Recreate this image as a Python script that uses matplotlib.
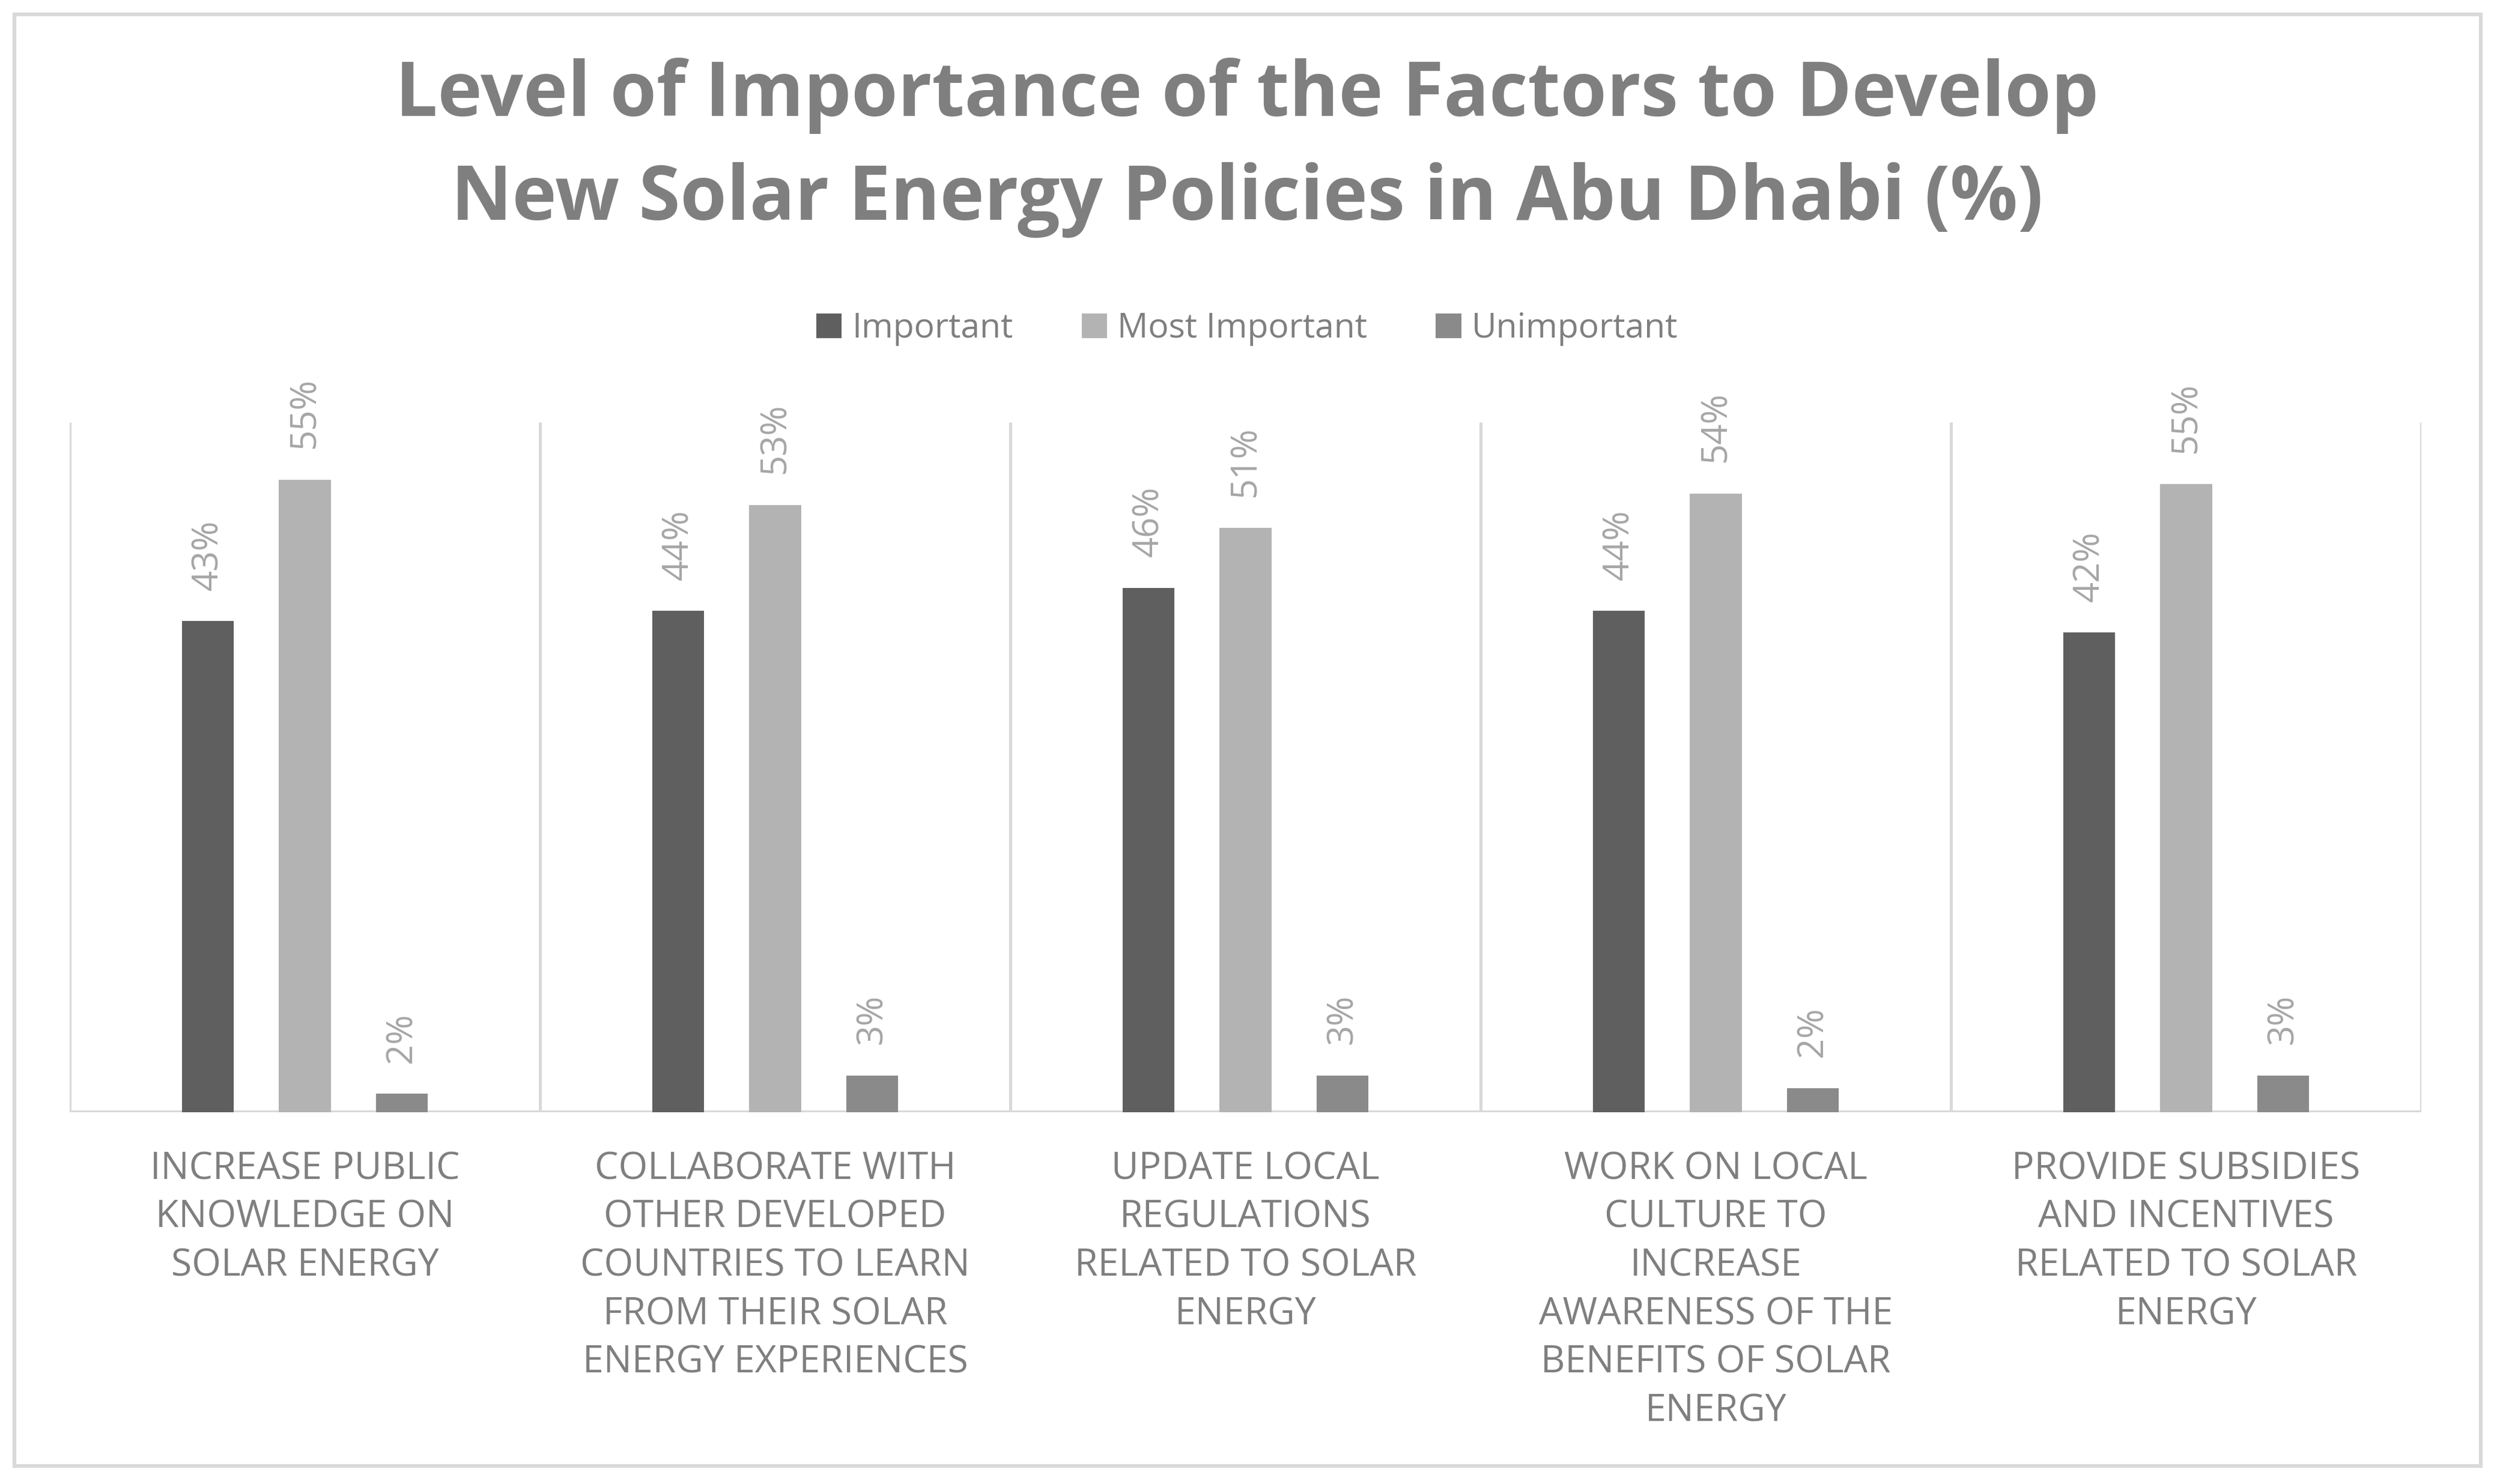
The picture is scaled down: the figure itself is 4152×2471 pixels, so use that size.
import numpy as np
import matplotlib.pyplot as plt
from matplotlib.patches import Rectangle

plt.rcParams['font.family'] = ['Open Sans', 'DejaVu Sans']

categories = [
    "INCREASE PUBLIC\nKNOWLEDGE ON\nSOLAR ENERGY",
    "COLLABORATE WITH\nOTHER DEVELOPED\nCOUNTRIES TO LEARN\nFROM THEIR SOLAR\nENERGY EXPERIENCES",
    "UPDATE LOCAL\nREGULATIONS\nRELATED TO SOLAR\nENERGY",
    "WORK ON LOCAL\nCULTURE TO\nINCREASE\nAWARENESS OF THE\nBENEFITS OF SOLAR\nENERGY",
    "PROVIDE SUBSIDIES\nAND INCENTIVES\nRELATED TO SOLAR\nENERGY",
]
important = [42.7, 43.6, 45.6, 43.6, 41.7]
most_important = [55.0, 52.8, 50.8, 53.8, 54.6]
unimportant = [1.6, 3.2, 3.2, 2.1, 3.2]
series_names = ["Important", "Most Important", "Unimportant"]
colors = ['#5f5f5f', '#b3b3b3', '#8a8a8a']

W, H = 4152, 2471
fig = plt.figure(figsize=(W / 100, H / 100), dpi=100)
ax = fig.add_axes([116 / W, 1 - 1852 / H, (4031 - 116) / W, (1852 - 703) / H])

x = np.arange(len(categories))
width = 0.110
step = 0.206
for i, (vals, name, col) in enumerate(zip([important, most_important, unimportant], series_names, colors)):
    bars = ax.bar(x + (i - 1) * step, vals, width, color=col, label=name, zorder=3)
    for b, v in zip(bars, vals):
        ax.annotate(f"{v:.0f}%", (b.get_x() + b.get_width() / 2, v),
                    xytext=(0, 37), textcoords='offset points',
                    rotation=90, ha='center', va='bottom',
                    fontsize=43, color='#a6a6a6')

ax.set_xlim(-0.5, len(categories) - 0.5)
ax.set_ylim(0, 60)
ax.vlines(np.arange(len(categories) + 1) - 0.5, 0, 60, color='#d9d9d9', lw=3.6, zorder=1)
ax.axhline(0, color='#d9d9d9', lw=5, zorder=2)

for s in ax.spines.values():
    s.set_visible(False)
ax.set_yticks([])
ax.set_xticks(x)
ax.set_xticklabels(categories, fontsize=45, color='#7f7f7f', linespacing=1.38)
ax.tick_params(axis='x', length=0, pad=46)

fig.text(0.5, 1 - 246 / H,
         "Level of Importance of the Factors to Develop\nNew Solar Energy Policies in Abu Dhabi (%)",
         ha='center', va='center', fontsize=90, fontweight='bold', color='#7f7f7f',
         linespacing=1.48)

fig.legend(loc='center', bbox_to_anchor=(0.5, 1 - 548 / H), ncol=3, frameon=False,
           fontsize=41, labelcolor='#7f7f7f', handlelength=0.75, handleheight=0.75,
           handletextpad=0.3, columnspacing=2.0)

fig.patches.append(Rectangle((24 / W, 1 - 2441 / H), (4130 - 24) / W, (2441 - 24) / H,
                             transform=fig.transFigure, fill=False,
                             edgecolor='#d9d9d9', lw=4.5))

fig.savefig('out.png', dpi=100)
